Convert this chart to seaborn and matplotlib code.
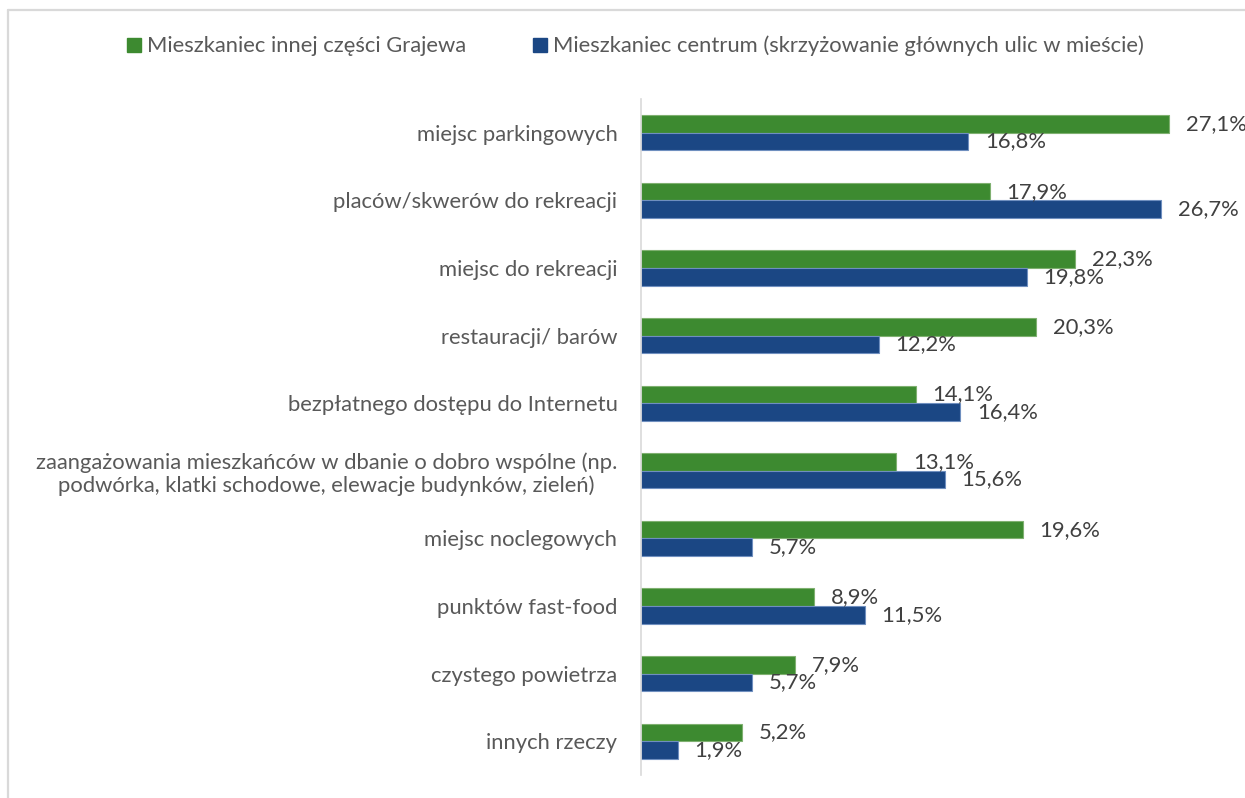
import matplotlib
matplotlib.use("Agg")
import matplotlib.pyplot as plt
import seaborn as sns
import pandas as pd
from matplotlib.lines import Line2D

# Survey answers: what is missing in the neighbourhood (percent of respondents)
categories = [
    "miejsc parkingowych",
    "placów/skwerów do rekreacji",
    "miejsc do rekreacji",
    "restauracji/ barów",
    "bezpłatnego dostępu do Internetu",
    "zaangażowania mieszkańców w dbanie o dobro wspólne (np.\n"
    "podwórka, klatki schodowe, elewacje budynków, zieleń)",
    "miejsc noclegowych",
    "punktów fast-food",
    "czystego powietrza",
    "innych rzeczy",
]
series_names = [
    "Mieszkaniec innej części Grajewa",
    "Mieszkaniec centrum (skrzyżowanie głównych ulic w mieście)",
]
other_part = [27.1, 17.9, 22.3, 20.3, 14.1, 13.1, 19.6, 8.9, 7.9, 5.2]
centre = [16.8, 26.7, 19.8, 12.2, 16.4, 15.6, 5.7, 11.5, 5.7, 1.9]
colors = ["#3D8A30", "#1B4784"]
edge_colors = ["#7FB070", "#6F8FBF"]

df = pd.DataFrame({
    "kategoria": categories * 2,
    "wartosc": other_part + centre,
    "seria": [series_names[0]] * len(categories) + [series_names[1]] * len(categories),
})

sns.set_theme(style="white")
plt.rcParams["font.family"] = ["Lato", "DejaVu Sans"]

FS = 15.8
W, H = 1245, 798
fig = plt.figure(figsize=(W / 100, H / 100), dpi=100)

# outer chart frame (light grey, open to the right and bottom)
fig.add_artist(Line2D([8 / W, 8 / W], [0, 1 - 10 / H], color="#D9D9D9", lw=1.6,
                      transform=fig.transFigure))
fig.add_artist(Line2D([8 / W, 1], [1 - 10 / H, 1 - 10 / H], color="#D9D9D9", lw=1.6,
                      transform=fig.transFigure))

ax = fig.add_axes([641 / W, 1 - 775 / H, 589 / W, 676 / H])
sns.barplot(
    data=df, y="kategoria", x="wartosc", hue="seria", orient="h",
    hue_order=series_names, order=categories, palette=colors,
    width=0.52, ax=ax, legend=False, saturation=1,
)

for cont, ec in zip(ax.containers, edge_colors):
    for bar in cont:
        bar.set_edgecolor(ec)
        bar.set_linewidth(0.8)

for cont, vals in zip(ax.containers, [other_part, centre]):
    ax.bar_label(cont, labels=[f"{v:.1f}%".replace(".", ",") for v in vals],
                 padding=12, fontsize=FS, color="#404040")

ax.set_xlim(0, 30.24)
ax.set_ylim(len(categories) - 0.5, -0.5)
ax.set_xticks([])
ax.set_xlabel("")
ax.set_ylabel("")
ax.tick_params(axis="y", length=0, pad=17, labelsize=FS, labelcolor="#595959")
for lbl in ax.get_yticklabels():
    lbl.set_multialignment("center")
    lbl.set_linespacing(1.15)

for side in ["top", "right", "bottom"]:
    ax.spines[side].set_visible(False)
ax.spines["left"].set_color("#D9D9D9")
ax.spines["left"].set_linewidth(1.2)

handles = [Line2D([], [], marker="s", linestyle="", markersize=10, color=c) for c in colors]
fig.legend(handles, series_names, loc="center", bbox_to_anchor=(635 / W, 1 - 46 / H),
           ncol=2, frameon=False, handlelength=0.7, handletextpad=0.25,
           columnspacing=3.0, fontsize=FS, labelcolor="#595959")

fig.savefig("out.png", dpi=100, facecolor="white")
